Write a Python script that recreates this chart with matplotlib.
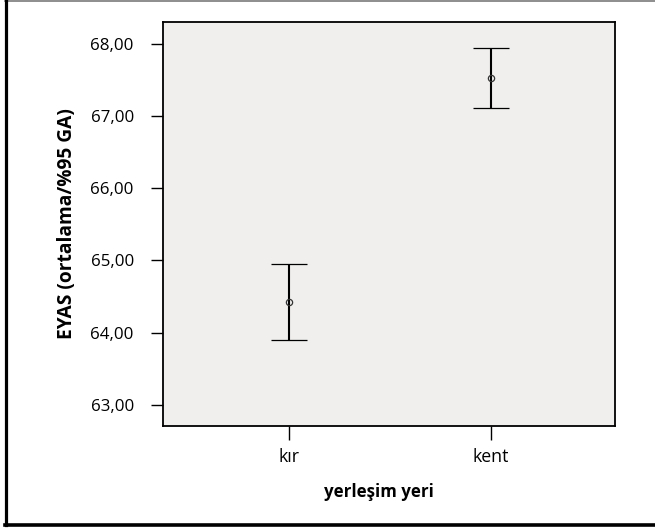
import matplotlib
matplotlib.use("Agg")
import matplotlib.pyplot as plt
from matplotlib.lines import Line2D

categories = ["kır", "kent"]
means = [64.43, 67.53]
lower = [63.90, 67.11]
upper = [64.95, 67.94]
yticks = [63, 64, 65, 66, 67, 68]

plt.rcParams['font.family'] = ['Open Sans', 'DejaVu Sans']

fig = plt.figure(figsize=(6.55, 5.3), dpi=100)
fig.patch.set_facecolor('white')
ax = fig.add_axes([163/655, 1-426/530, (615-163)/655, (426-22)/530])
ax.set_facecolor('#f0efed')

x = list(range(1, len(categories)+1))
yerr = [[m - l for m, l in zip(means, lower)], [u - m for m, u in zip(means, upper)]]
ax.errorbar(x, means, yerr=yerr, fmt='o', color='black', ecolor='black',
            elinewidth=1.5, capsize=13, capthick=1.8,
            markersize=4.5, markerfacecolor='none', markeredgecolor='#333333',
            markeredgewidth=0.9)

ax.set_xlim(0.376, 2.614)
ax.set_ylim(62.71, 68.30)
ax.set_xticks(x)
ax.set_xticklabels(categories, fontsize=12.8)
ax.set_yticks(yticks)
ax.set_yticklabels([f"{v:.2f}".replace('.', ',') for v in yticks], fontsize=12.2)
ax.tick_params(axis='y', length=9, width=1, pad=12)
ax.tick_params(axis='x', length=10, width=1, pad=6)
for s in ax.spines.values():
    s.set_linewidth(1.3)
    s.set_color('black')

ax.set_ylabel("EYAS (ortalama/%95 GA)", fontsize=13.8, fontweight='bold', labelpad=10)
ax.set_xlabel("yerleşim yeri", fontsize=12.2, fontweight='bold')
ax.xaxis.set_label_coords(0.478, -0.141)

# outer frame: thin grey top, thick black left and bottom
fig.add_artist(Line2D([5/655, 1.0], [1-0.8/530, 1-0.8/530], transform=fig.transFigure,
                      color='#7a7a7a', linewidth=1.2))
fig.add_artist(Line2D([5.5/655, 5.5/655], [1-525/530, 1.0], transform=fig.transFigure,
                      color='black', linewidth=2.3))
fig.add_artist(Line2D([5/655, 1.0], [1-525/530, 1-525/530], transform=fig.transFigure,
                      color='black', linewidth=2.6))

fig.savefig("out.png", dpi=100)
